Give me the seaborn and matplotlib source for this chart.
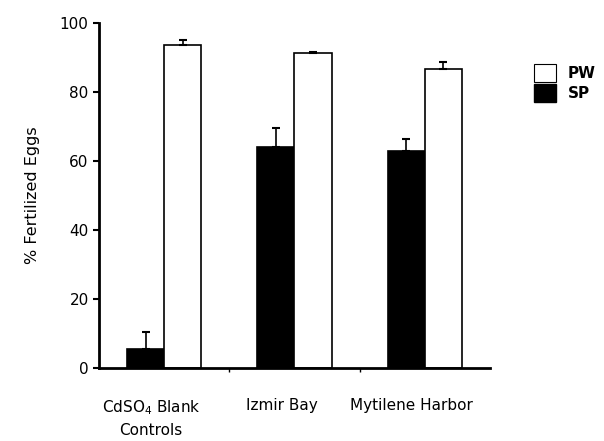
import pandas as pd
import seaborn as sns
import matplotlib.pyplot as plt
from matplotlib.patches import Patch

# Dados
sites = ['CdSO$_4$ Blank\nControls', 'Izmir Bay', 'Mytilene Harbor']
sp_mean = [5.5, 64.0, 63.0]
sp_err = [4.9, 5.6, 3.3]
pw_mean = [93.6, 91.4, 86.7]
pw_err = [1.4, 0.3, 2.0]

df = pd.DataFrame({
    'site': sites * 2,
    'group': ['SP'] * 3 + ['PW'] * 3,
    'value': sp_mean + pw_mean,
    'err': sp_err + pw_err,
})

sns.set_style('ticks')
plt.rcParams['font.family'] = ['DejaVu Sans']
plt.rcParams.update({'text.color': 'black', 'axes.labelcolor': 'black',
                     'xtick.color': 'black', 'ytick.color': 'black',
                     'axes.edgecolor': 'black'})

fig = plt.figure(figsize=(6.04, 4.41), dpi=100)
ax = fig.add_axes([0.164, 0.166, 0.647, 0.782])

sns.barplot(data=df, x='site', y='value', hue='group', hue_order=['SP', 'PW'],
            palette={'SP': 'black', 'PW': 'white'}, edgecolor='black', linewidth=1.2,
            width=0.57, errorbar=None, legend=False, ax=ax)

# barras de erro (só para cima)
for bar, (_, row) in zip(ax.patches, df.iterrows()):
    cx = bar.get_x() + bar.get_width() / 2
    ax.errorbar(cx, row['value'], yerr=[[0], [row['err']]], fmt='none',
                ecolor='black', elinewidth=1.2, capsize=3, capthick=1.5, zorder=1)

ax.set_xlim(-0.5, 2.5)
ax.set_ylim(0, 100)
ax.set_yticks([0, 20, 40, 60, 80, 100])
ax.set_xlabel('')
ax.set_ylabel('% Fertilized Eggs', fontsize=11.5, labelpad=14)
ax.tick_params(axis='y', labelsize=11, width=1.5, length=4)
ax.set_xticks([-0.1, 0.9, 1.9])
ax.set_xticklabels(sites, linespacing=1.5)
ax.tick_params(axis='x', which='major', length=0, pad=22, labelsize=11)
ax.set_xticks([0.5, 1.5], minor=True)
ax.tick_params(axis='x', which='minor', length=3, width=1)
sns.despine(ax=ax)
for s in ['left', 'bottom']:
    ax.spines[s].set_linewidth(2)

handles = [Patch(facecolor='white', edgecolor='black', linewidth=0.8),
           Patch(facecolor='black', edgecolor='black')]
leg = fig.legend(handles, ['PW', 'SP'], loc='upper left', bbox_to_anchor=(0.862, 0.885),
                 frameon=False, prop={'weight': 'bold', 'size': 11},
                 handlelength=1.4, handleheight=1.4, handletextpad=0.8, labelspacing=0.15)

plt.savefig('out.png', dpi=100)
